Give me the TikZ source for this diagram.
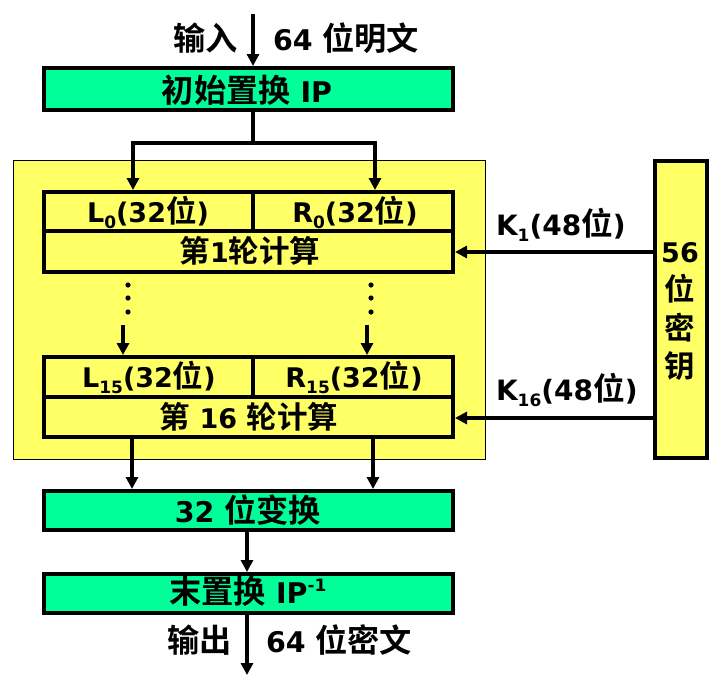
\documentclass[tikz,border=0pt]{standalone}
\usepackage{fontspec}
\setmainfont{DejaVu Sans}
\newfontfamily\zh{Noto Sans CJK SC}[BoldFont=* Bold, Scale=1.13]
\usetikzlibrary{arrows.meta}
\definecolor{boxgreen}{HTML}{00FF99}
\definecolor{boxyellow}{HTML}{FFFF66}
\newcommand\Z[1]{{\zh\bfseries #1}}
\newcommand\sbs[1]{\raisebox{-0.24em}{\fontsize{17pt}{17pt}\selectfont #1}}
\newcommand\sps[1]{\raisebox{0.42em}{\fontsize{17pt}{17pt}\selectfont #1}}
\begin{document}
\begin{tikzpicture}[x=1pt,y=-1pt,line width=4pt,
  >={Triangle[length=12pt,width=12pt]},
  big/.style={font=\fontsize{28.5pt}{30pt}\selectfont\bfseries,inner sep=0pt},
  mid/.style={font=\fontsize{27pt}{30pt}\selectfont\bfseries,inner sep=0pt},
  kls/.style={font=\fontsize{28pt}{30pt}\selectfont\bfseries,inner sep=0pt},
  gbox/.style={draw=black,fill=boxgreen,line width=4pt,minimum width=409pt,inner sep=0pt},
  ybox/.style={draw=black,fill=boxyellow,line width=4pt,inner sep=0pt}]
\useasboundingbox (0,0) rectangle (720,694);
% background frame
\path[fill=boxyellow,draw=black,line width=0.8pt] (13,160) rectangle (485,459);
% boxes
\node[gbox,minimum height=42pt] (ip) at (248.5,89) {};
\node[ybox,minimum width=409pt,minimum height=80pt] (r1) at (248.5,232) {};
\node[ybox,minimum width=409pt,minimum height=80pt] (r16) at (248.5,397) {};
\node[gbox,minimum height=39pt] (sw) at (248.5,510.5) {};
\node[gbox,minimum height=39pt] (fp) at (248.5,593.5) {};
\node[ybox,minimum width=52pt,minimum height=297pt] (key) at (681,309.5) {};
% dividers
\coordinate (mid1) at (253,231);
\coordinate (mid16) at (253,397);
\draw (r1.west |- mid1) -- (r1.east |- mid1);
\draw (mid1) -- (r1.north -| mid1);
\draw (r16.west |- mid16) -- (r16.east |- mid16);
\draw (mid16) -- (r16.north -| mid16);
% coordinates
\coordinate (in) at (253,14);
\coordinate (s) at (253,143);
\coordinate (cl) at (133,0);
\coordinate (cr) at (375,0);
\coordinate (dl) at (123,325);
\coordinate (dr) at (367,325);
\coordinate (bl) at (132,0);
\coordinate (br) at (373,0);
\coordinate (ax) at (247,0);
\coordinate (out) at (247,675);
\coordinate (k1) at (0,252);
\coordinate (k16) at (0,418);
% connectors
\draw[->] (in) -- (in |- ip.north);
\draw (ip.south -| s) -- (s);
\draw[->] (s) -| (r1.north -| cl);
\draw[->] (s) -| (r1.north -| cr);
\draw[->] (dl) -- (r16.north -| dl);
\draw[->] (dr) -- (r16.north -| dr);
\draw[->] (r16.south -| bl) -- (sw.north -| bl);
\draw[->] (r16.south -| br) -- (sw.north -| br);
\draw[->] (sw.south -| ax) -- (fp.north -| ax);
\draw[->] (fp.south -| ax) -- (out);
\draw[->] (key.west |- k1) -- (r1.east |- k1);
\draw[->] (key.west |- k16) -- (r16.east |- k16);
% dots
\foreach \y in {285,298,312} {
  \fill (128,\y) circle (2.6pt);
  \fill (371,\y) circle (2.6pt);
}
% texts
\node[big,anchor=base east] (tin) at (240,50) {\Z{输入}};
\node[big,anchor=base west] (tpt) at (271,50) {64 \Z{位明文}};
\node[big,anchor=base] (tip) at (247,102) {\Z{初始置换} IP};
\node[mid,anchor=base] (tl0) at (148,222) {L\sbs{0}(32\Z{位})};
\node[mid,anchor=base] (tr0) at (355,222) {R\sbs{0}(32\Z{位})};
\node[mid,anchor=base] (tr1) at (250,262) {\Z{第}1\Z{轮计算}};
\node[mid,anchor=base] (tl15) at (149,387) {L\sbs{15}(32\Z{位})};
\node[mid,anchor=base] (tr15) at (354,387) {R\sbs{15}(32\Z{位})};
\node[mid,anchor=base] (tr16) at (249,428) {\Z{第} 16 \Z{轮计算}};
\node[kls,anchor=base west] (tk1) at (494,235) {K\sbs{1}(48\Z{位})};
\node[kls,anchor=base west] (tk16) at (494,400) {K\sbs{16}(48\Z{位})};
\node[mid,anchor=base] (t56) at (680,262) {56};
\node[mid] (tw) at (680,289) {\Z{位}};
\node[mid] (tm) at (680,328) {\Z{密}};
\node[mid] (ty) at (680,366) {\Z{钥}};
\node[big,anchor=base] (tsw) at (248,522) {32 \Z{位变换}};
\node[big,anchor=base] (tfp) at (248,603) {\Z{末置换} IP\sps{-1}};
\node[big,anchor=base east] (tout) at (234,652) {\Z{输出}};
\node[big,anchor=base west] (tct) at (264,652) {64 \Z{位密文}};
\end{tikzpicture}
\end{document}
